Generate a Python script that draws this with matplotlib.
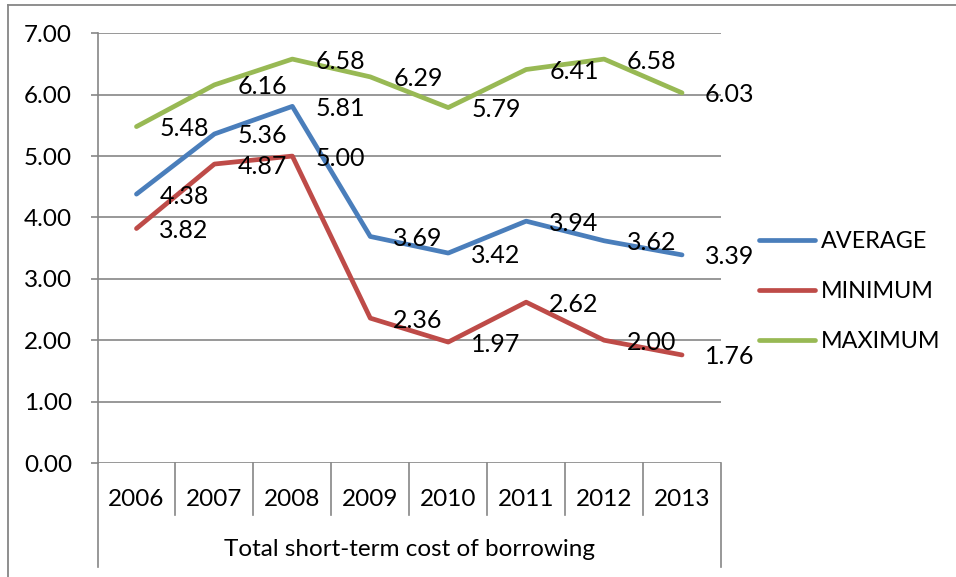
import matplotlib.pyplot as plt
from matplotlib.lines import Line2D

plt.rcParams["font.family"] = ["Lato", "DejaVu Sans"]

years = ["2006", "2007", "2008", "2009", "2010", "2011", "2012", "2013"]
average = [4.38, 5.36, 5.81, 3.69, 3.42, 3.94, 3.62, 3.39]
minimum = [3.82, 4.87, 5.00, 2.36, 1.97, 2.62, 2.00, 1.76]
maximum = [5.48, 6.16, 6.58, 6.29, 5.79, 6.41, 6.58, 6.03]
series_names = ["AVERAGE", "MINIMUM", "MAXIMUM"]
axis_title = "Total short-term cost of borrowing"

colors = ["#4A7EBB", "#BE4B48", "#98B954"]
grid_c = "#868686"
W, H = 956, 577

fig = plt.figure(figsize=(W / 100, H / 100), dpi=100)
# chart frame (left and top edges show)
fig.add_artist(Line2D([8 / W, 8 / W], [0, 1 - 5 / H], color=grid_c, lw=1.3))
fig.add_artist(Line2D([8 / W, 1], [1 - 5 / H, 1 - 5 / H], color=grid_c, lw=1.3))

x0, x1, ytop, ybot = 97.5, 721, 33.3, 463
ax = fig.add_axes([x0 / W, 1 - ybot / H, (x1 - x0) / W, (ybot - ytop) / H])
ph = ybot - ytop

xs = [i + 0.5 for i in range(len(years))]
for vals, name, c in zip([average, minimum, maximum], series_names, colors):
    ax.plot(xs, vals, color=c, lw=3.4, solid_capstyle="round",
            solid_joinstyle="round", label=name, zorder=3)
    for x, v in zip(xs, vals):
        ax.annotate(f"{v:.2f}", (x, v), xytext=(23, -2), textcoords="offset pixels",
                    ha="left", va="center", fontsize=18, color="black", zorder=4)

ax.set_xlim(0, len(years))
ax.set_ylim(0, 7)
ax.set_yticks(range(8))
ax.set_yticklabels([f"{t:.2f}" for t in range(8)], fontsize=17.5)
ax.tick_params(axis="y", length=5.4, width=1.2, color=grid_c, pad=13)
ax.set_xticks([])
ax.grid(axis="y", color=grid_c, lw=1.2)
ax.set_axisbelow(True)
for s in ["top", "right", "bottom"]:
    ax.spines[s].set_visible(False)
ax.spines["left"].set_color(grid_c)
ax.spines["left"].set_linewidth(1.2)

# multi-level category axis
tr = ax.transAxes
sep_y = -(515 - ybot) / ph
out_y = -(566.7 - ybot) / ph
for k in range(1, len(years)):
    ax.add_artist(Line2D([k / len(years)] * 2, [0, sep_y], transform=tr,
                         color=grid_c, lw=1.2, clip_on=False))
for xe in (0, 1):
    ax.add_artist(Line2D([xe, xe], [0, out_y], transform=tr,
                         color=grid_c, lw=1.2, clip_on=False))
for i, yr in enumerate(years):
    ax.text((i + 0.5) / len(years), -(499 - ybot) / ph, yr, transform=tr,
            ha="center", va="center", fontsize=17.5)
ax.text(0.5, -(550 - ybot) / ph, axis_title, transform=tr,
        ha="center", va="center", fontsize=17.5)

ax.legend(loc="center left", bbox_to_anchor=(759 / W, 1 - 291.7 / H),
          bbox_transform=fig.transFigure, frameon=False, fontsize=16.8,
          handlelength=2.4, handletextpad=0.25, labelspacing=1.25,
          borderaxespad=0, borderpad=0)

fig.savefig("out.png", dpi=100)
